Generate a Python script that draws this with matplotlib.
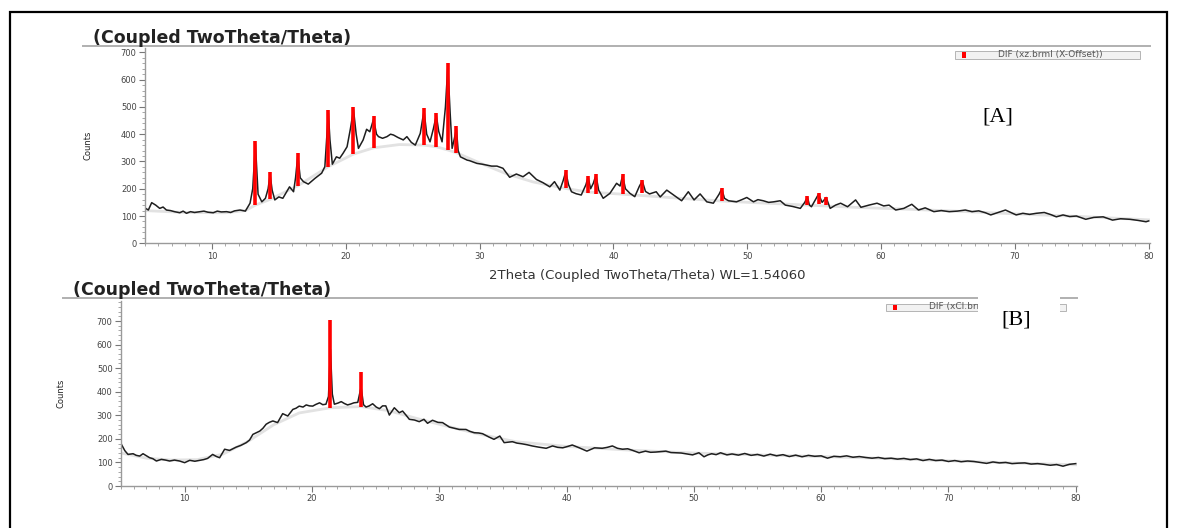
import matplotlib
matplotlib.use("Agg")
import matplotlib.pyplot as plt
from matplotlib.patches import Rectangle
from matplotlib.lines import Line2D
from matplotlib.ticker import MultipleLocator

# ---------------- data: panel A ----------------
a_x = [5.05, 5.25, 5.5, 5.8, 6.1, 6.35, 6.6, 6.9, 7.2, 7.6, 7.85, 8.1, 8.4, 8.7, 9.1, 9.4, 9.7,
       10.1, 10.4, 10.7, 11.1, 11.4, 11.7, 12.1, 12.5, 12.85, 13.05, 13.25, 13.45, 13.73, 14.0,
       14.2, 14.35, 14.5, 14.7, 15.0, 15.3, 15.8, 16.1, 16.25, 16.42, 16.6, 16.84, 17.2, 17.7,
       18.2, 18.44, 18.6, 18.7, 18.82, 19.0, 19.3, 19.55, 19.8, 20.1, 20.35, 20.58, 20.78, 20.95,
       21.3, 21.56, 21.8, 22.08, 22.3, 22.45, 22.75, 23.08, 23.35, 23.57, 23.9, 24.3, 24.57, 24.9,
       25.2, 25.57, 25.85, 26.05, 26.3, 26.55, 26.77, 26.95, 27.2, 27.45, 27.63, 27.8, 27.95,
       28.1, 28.27, 28.4, 28.57, 29.07, 29.25, 29.8, 30.2, 30.5, 30.9, 31.3, 31.75, 32.25, 32.75,
       33.25, 33.7, 34.25, 34.75, 35.25, 35.6, 36.0, 36.25, 36.44, 36.65, 36.87, 37.2, 37.6,
       37.95, 38.11, 38.3, 38.5, 38.7, 38.9, 39.24, 39.74, 40.24, 40.5, 40.69, 40.9, 41.24, 41.6,
       41.95, 42.16, 42.4, 42.7, 43.2, 43.5, 43.99, 44.5, 45.1, 45.6, 46.03, 46.48, 46.98, 47.47,
       47.9, 48.1, 48.3, 48.6, 49.2, 49.6, 49.97, 50.47, 50.8, 51.2, 51.6, 51.97, 52.47, 52.85,
       53.4, 53.97, 54.3, 54.5, 54.65, 54.8, 55.1, 55.33, 55.6, 55.9, 56.2, 56.6, 56.98, 57.5,
       58.1, 58.5, 59.1, 59.7, 60.2, 60.6, 61.1, 61.7, 62.3, 62.8, 63.3, 63.95, 64.5, 65.1, 65.7,
       66.3, 66.8, 67.3, 67.8, 68.2, 68.7, 69.3, 70.1, 70.6, 71.1, 71.6, 72.2, 72.7, 73.1, 73.6,
       74.1, 74.6, 75.3, 75.9, 76.6, 77.3, 77.9, 78.6, 79.2, 79.8, 80.0]
a_y = [128, 122, 149, 140, 128, 133, 122, 120, 116, 112, 118, 110, 116, 113, 116, 118, 114,
       112, 118, 115, 116, 113, 119, 122, 118, 147, 200, 365, 180, 152, 165,
       200, 252, 195, 159, 170, 165, 207, 189, 240, 322, 240, 226, 217, 238,
       257, 281, 400, 478, 380, 290, 317, 312, 330, 354, 420, 490, 400, 348,
       379, 418, 409, 455, 400, 391, 385, 391, 400, 397, 388, 379, 391, 370,
       360, 403, 487, 400, 372, 420, 469, 410, 372, 500, 650, 480, 348,
       380, 420, 340, 317, 305, 303, 293, 290, 287, 283, 283, 275, 242, 254,
       244, 260, 234, 222, 207, 226, 195, 230, 262, 215, 189, 182, 177,
       215, 243, 200, 220, 250, 195, 165, 183, 220, 210, 248, 200, 183, 171,
       210, 228, 190, 181, 189, 170, 195, 177, 156, 189, 159, 181, 152, 147,
       180, 200, 165, 156, 152, 160, 168, 152, 160, 156, 150, 152, 156, 140,
       135, 128, 150, 170, 140, 134, 160, 180, 150, 168, 128, 140, 147, 134,
       159, 132, 140, 147, 137, 140, 122, 128, 143, 122, 130, 116, 120, 116, 118,
       122, 116, 119, 112, 104, 112, 122, 104, 110, 106, 110, 113, 105, 97, 104,
       98, 100, 88, 95, 97, 85, 90, 88, 84, 79, 82]

a_bg_x = [5, 8, 11, 12.5, 13.25, 14.35, 16.42, 18.7, 20.58, 22.08, 24, 25.85, 26.77, 27.63, 28.27,
          30, 32, 34, 36.44, 38.11, 40.69, 42.16, 45, 48.1, 51, 54.5, 58, 62, 66, 70, 75, 80]
a_bg_y = [120, 113, 112, 120, 140, 161, 211, 281, 327, 350, 362, 360, 354, 342, 332,
          295, 255, 225, 201, 188, 180, 175, 165, 155, 148, 140, 132, 125, 117, 108, 98, 86]

a_stick_pos = [13.25, 14.35, 16.42, 18.70, 20.58, 22.08, 25.85, 26.77, 27.63, 28.27,
               36.44, 38.11, 38.70, 40.69, 42.16, 48.10, 54.50, 55.33, 55.90]
a_stick_bot = [140, 161, 211, 281, 327, 350, 360, 354, 342, 332,
               201, 183, 180, 181, 183, 155, 140, 144, 140]
a_stick_top = [375, 262, 332, 488, 500, 468, 497, 479, 660, 430,
               269, 247, 254, 254, 232, 204, 173, 183, 171]

# ---------------- data: panel B ----------------
b_x = [5.05, 5.3, 5.55, 5.95, 6.2, 6.47, 6.73, 7.0, 7.25, 7.5, 7.78, 8.17, 8.5, 8.82, 9.2, 9.6,
       10.0, 10.4, 10.8, 11.2, 11.5, 11.8, 12.2, 12.5, 12.75, 13.14, 13.53, 14.05, 14.4, 14.84,
       15.1, 15.36, 15.6, 15.9, 16.15, 16.4, 16.65, 16.93, 17.3, 17.7, 18.1, 18.5, 18.75, 19.0,
       19.3, 19.55, 19.8, 20.06, 20.3, 20.6, 20.85, 21.1, 21.3, 21.45, 21.6, 21.76, 22.05, 22.3,
       22.55, 22.8, 23.05, 23.3, 23.6, 23.86, 24.05, 24.25, 24.5, 24.77, 25.05, 25.3, 25.55,
       25.8, 26.08, 26.47, 26.86, 27.12, 27.4, 27.65, 28.05, 28.43, 28.8, 29.08, 29.47, 29.9,
       30.26, 30.8, 31.2, 31.57, 32.1, 32.4, 32.75, 33.1, 33.4, 33.9, 34.3, 34.76, 35.1, 35.4,
       35.75, 36.1, 36.5, 36.9, 37.3, 37.8, 38.4, 38.9, 39.3, 39.7, 40.1, 40.45, 41.0, 41.6,
       42.2, 42.8, 43.2, 43.6, 44.0, 44.4, 44.8, 45.2, 45.7, 46.2, 46.6, 47.0, 47.4, 47.8, 48.2,
       48.6, 49.0, 49.35, 49.9, 50.4, 50.8, 51.1, 51.4, 51.75, 52.1, 52.6, 53.0, 53.5, 54.0,
       54.5, 55.0, 55.5, 56.0, 56.5, 57.0, 57.5, 58.0, 58.5, 59.0, 59.5, 60.0, 60.5, 61.0, 61.5,
       62.0, 62.5, 63.0, 63.5, 64.0, 64.5, 65.0, 65.5, 66.0, 66.5, 67.0, 67.5, 68.0, 68.5, 69.0,
       69.5, 70.0, 70.5, 71.0, 71.5, 72.0, 72.5, 73.0, 73.5, 74.0, 74.5, 75.0, 75.5, 76.0, 76.5,
       77.0, 77.5, 78.0, 78.5, 79.0, 79.5, 80.0]
b_y = [175, 150, 134, 137, 130, 127, 137, 128, 120, 116, 106, 113, 110, 106, 110, 106,
       99, 109, 105, 109, 112, 117, 134, 125, 120, 156, 151, 165, 172, 184,
       195, 219, 225, 233, 245, 262, 270, 276, 269, 307, 297, 325, 330, 339,
       335, 344, 340, 339, 346, 353, 345, 347, 380, 580, 390, 347, 352, 358,
       350, 344, 348, 353, 355, 420, 345, 335, 340, 349, 335, 328, 340,
       340, 301, 332, 311, 318, 300, 283, 280, 273, 283, 266, 279, 270,
       269, 250, 245, 240, 240, 232, 226, 225, 222, 208, 198, 212, 184, 186,
       188, 182, 179, 175, 170, 165, 160, 170, 164, 162, 168, 174, 162, 148,
       162, 160, 164, 170, 160, 156, 158, 151, 141, 148, 143, 144, 146, 148, 142,
       141, 140, 137, 132, 141, 124, 132, 137, 133, 141, 132, 136, 131, 138,
       130, 134, 127, 135, 128, 133, 125, 131, 124, 130, 126, 128, 118, 126, 124,
       128, 122, 125, 121, 118, 121, 116, 118, 114, 117, 112, 115, 108, 113, 108,
       110, 104, 108, 103, 106, 104, 100, 96, 102, 98, 100, 95, 97, 98, 93,
       95, 92, 88, 91, 84, 92, 95]

b_bg_x = [5, 7, 9, 11, 13, 15, 17, 19, 21.45, 23.86, 26, 28, 30, 33, 36, 40, 45, 50, 55, 60,
          65, 70, 75, 80]
b_bg_y = [140, 118, 110, 112, 135, 190, 260, 310, 332, 337, 320, 290, 262, 222, 188, 168,
          152, 140, 132, 125, 117, 107, 98, 90]

b_stick_pos = [21.45, 23.86]
b_stick_bot = [332, 337]
b_stick_top = [704, 485]

title_text = "(Coupled TwoTheta/Theta)"
xlabel_a = "2Theta (Coupled TwoTheta/Theta) WL=1.54060"
ylabel_text = "Counts"
legend_a = "DIF (xz.brml (X-Offset))"
legend_b = "DIF (xCl.brml (X-Offset))"
x_ticks = [10, 20, 30, 40, 50, 60, 70, 80]
y_ticks = [0, 100, 200, 300, 400, 500, 600, 700]

# ---------------- figure ----------------
W, H = 1178, 528
fig = plt.figure(figsize=(W / 100, H / 100), dpi=100)
fig.patch.set_facecolor("white")


def fx(px):
    return px / W


def fy(py):
    return 1 - py / H


def make_axes(left, right, top, bottom, ymax):
    ax = fig.add_axes([fx(left), fy(bottom), fx(right - left), fy(top) - fy(bottom)])
    ax.set_xlim(5, 80.1)
    ax.set_ylim(0, ymax)
    for s in ("top", "right"):
        ax.spines[s].set_visible(False)
    for s in ("left", "bottom"):
        ax.spines[s].set_color("#9a9a9a")
        ax.spines[s].set_linewidth(1.0)
    ax.set_xticks(x_ticks)
    ax.set_yticks(y_ticks)
    ax.xaxis.set_minor_locator(MultipleLocator(1))
    ax.yaxis.set_minor_locator(MultipleLocator(20))
    ax.tick_params(which="major", length=4, width=0.8, color="#777777",
                   labelsize=6, labelcolor="#444444", pad=2)
    ax.tick_params(which="minor", length=2, width=0.6, color="#999999")
    ax.patch.set_alpha(0)
    return ax


def draw_panel(ax, cx, cy, bgx, bgy, sp, sb, st):
    ax.plot(bgx, bgy, color="#e2e2e2", lw=2.0, zorder=1)
    ax.plot(cx, cy, color="#1e1e1e", lw=1.1, zorder=2)
    ax.vlines(sp, sb, st, colors="#ff0000", lw=2.6, zorder=3)
    ax.set_ylabel(ylabel_text, fontsize=6, color="#222222")


# Panel A
axA = make_axes(145, 1150, 48, 243.3, 716)
draw_panel(axA, a_x, a_y, a_bg_x, a_bg_y, a_stick_pos, a_stick_bot, a_stick_top)
axA.set_xlabel(xlabel_a, fontsize=9.5, color="#333333", labelpad=6)
axA.yaxis.set_label_coords(-0.052, 0.5)

# Panel B
axB = make_axes(121, 1077, 301, 486, 785)
draw_panel(axB, b_x, b_y, b_bg_x, b_bg_y, b_stick_pos, b_stick_bot, b_stick_top)
axB.yaxis.set_label_coords(-0.058, 0.5)

# titles and grey separator lines
fig.text(fx(93), fy(38), title_text, fontsize=12.5, fontweight="bold", color="#222222",
         ha="left", va="center")
fig.add_artist(Line2D([fx(83), fx(1150)], [fy(46), fy(46)], color="#b0b0b0", lw=1.4))
fig.text(fx(73), fy(290), title_text, fontsize=12.5, fontweight="bold", color="#222222",
         ha="left", va="center")
fig.add_artist(Line2D([fx(63), fx(1077)], [fy(298), fy(298)], color="#b0b0b0", lw=1.4))


def legend_box(x0, x1, yc, label, marker_x):
    h = 7
    fig.add_artist(Rectangle((fx(x0), fy(yc + h / 2)), fx(x1 - x0), fy(yc - h / 2) - fy(yc + h / 2),
                             facecolor="#f2f2f2", edgecolor="#aaaaaa", lw=0.6))
    fig.add_artist(Rectangle((fx(marker_x - 2), fy(yc + 2.5)), fx(4), fy(yc - 2.5) - fy(yc + 2.5),
                             facecolor="#ff0000", edgecolor="none"))
    fig.text(fx(x0 + 43), fy(yc), label, fontsize=6.5, color="#555555", ha="left", va="center")


legend_box(955, 1140, 55, legend_a, 964)
legend_box(886, 1066, 307, legend_b, 895)

# panel tags (white boxes placed over the legend / rule, as in the source image)
fig.text(fx(998), fy(117), "[A]", fontsize=16, family="Liberation Serif", color="black",
         ha="center", va="center", zorder=11,
         bbox=dict(facecolor="white", edgecolor="none", pad=4))
fig.add_artist(Rectangle((fx(978), fy(338)), fx(82), fy(290) - fy(338),
                         facecolor="white", edgecolor="none", zorder=10))
fig.text(fx(1016), fy(320), "[B]", fontsize=16, family="Liberation Serif", color="black",
         ha="center", va="center", zorder=11)

# outer frame
fig.add_artist(Rectangle((fx(10), -0.02), fx(1157), fy(12) + 0.02, facecolor="none",
                         edgecolor="black", lw=1.6))

fig.savefig("out.png", dpi=100, facecolor="white")
